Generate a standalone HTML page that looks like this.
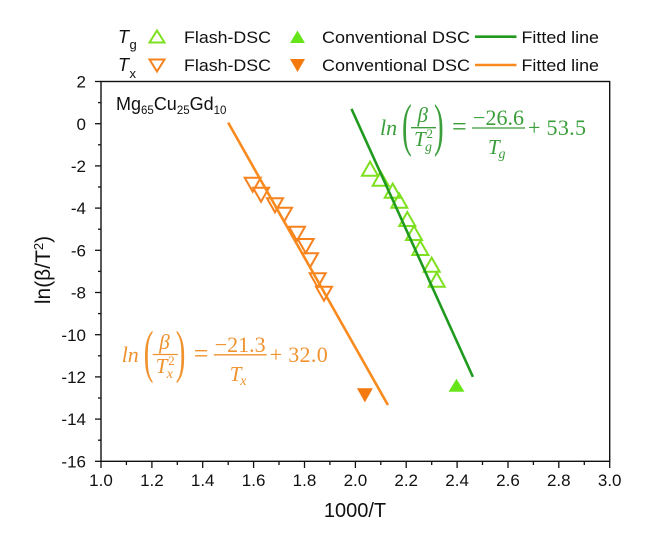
<!DOCTYPE html>
<html>
<head>
<meta charset="utf-8">
<style>
  html,body{margin:0;padding:0;background:#fff;}
  svg{display:block;}
</style>
</head>
<body>
<svg width="648" height="536" viewBox="0 0 648 536" xmlns="http://www.w3.org/2000/svg">
  <rect x="0" y="0" width="648" height="536" fill="#fff"/>

  <!-- Legend -->
  <g font-family="Liberation Sans, Arial, sans-serif" fill="#111">
    <text x="118" y="43" font-size="18" font-style="italic">T</text>
    <text x="129.5" y="49" font-size="13">g</text>
    <text x="118" y="71" font-size="18" font-style="italic">T</text>
    <text x="129.5" y="78" font-size="13">x</text>

    <text x="184" y="43" font-size="17" textLength="87" lengthAdjust="spacingAndGlyphs">Flash-DSC</text>
    <text x="184" y="71" font-size="17" textLength="87" lengthAdjust="spacingAndGlyphs">Flash-DSC</text>
    <text x="322" y="43" font-size="17" textLength="148" lengthAdjust="spacingAndGlyphs">Conventional DSC</text>
    <text x="322" y="71" font-size="17" textLength="148" lengthAdjust="spacingAndGlyphs">Conventional DSC</text>
    <text x="521.5" y="43" font-size="17" textLength="77.5" lengthAdjust="spacingAndGlyphs">Fitted line</text>
    <text x="521.5" y="71" font-size="17" textLength="77.5" lengthAdjust="spacingAndGlyphs">Fitted line</text>
  </g>
  <polygon points="149.5,42.5 164.5,42.5 157,30.5" fill="none" stroke="#7ee01e" stroke-width="2"/>
  <polygon points="290,43 305,43 297.5,30.5" fill="#66e619"/>
  <polygon points="149.5,59.5 164.5,59.5 157,71.5" fill="none" stroke="#f5821f" stroke-width="2"/>
  <polygon points="290,59 305,59 297.5,72" fill="#f47a10"/>
  <line x1="475" y1="36.7" x2="516.5" y2="36.7" stroke="#1f9a1f" stroke-width="2.6"/>
  <line x1="475" y1="65" x2="516.5" y2="65" stroke="#f98a1e" stroke-width="2.6"/>

  <!-- Frame -->
  <rect x="101" y="81.5" width="508.7" height="379.8" fill="none" stroke="#111" stroke-width="1.4"/>

  <!-- Y ticks -->
  <g stroke="#111" stroke-width="1.3">
    <line x1="95" y1="81.5" x2="101" y2="81.5"/>
    <line x1="98" y1="102.6" x2="101" y2="102.6"/>
    <line x1="95" y1="123.7" x2="101" y2="123.7"/>
    <line x1="98" y1="144.8" x2="101" y2="144.8"/>
    <line x1="95" y1="165.9" x2="101" y2="165.9"/>
    <line x1="98" y1="187" x2="101" y2="187"/>
    <line x1="95" y1="208.1" x2="101" y2="208.1"/>
    <line x1="98" y1="229.2" x2="101" y2="229.2"/>
    <line x1="95" y1="250.3" x2="101" y2="250.3"/>
    <line x1="98" y1="271.4" x2="101" y2="271.4"/>
    <line x1="95" y1="292.5" x2="101" y2="292.5"/>
    <line x1="98" y1="313.6" x2="101" y2="313.6"/>
    <line x1="95" y1="334.7" x2="101" y2="334.7"/>
    <line x1="98" y1="355.8" x2="101" y2="355.8"/>
    <line x1="95" y1="376.9" x2="101" y2="376.9"/>
    <line x1="98" y1="398" x2="101" y2="398"/>
    <line x1="95" y1="419.1" x2="101" y2="419.1"/>
    <line x1="98" y1="440.2" x2="101" y2="440.2"/>
    <line x1="95" y1="461.3" x2="101" y2="461.3"/>
  </g>
  <g font-family="Liberation Sans, Arial, sans-serif" font-size="17" fill="#111" text-anchor="end">
    <text x="86" y="87.6">2</text>
    <text x="86" y="129.8">0</text>
    <text x="86" y="172">-2</text>
    <text x="86" y="214.2">-4</text>
    <text x="86" y="256.4">-6</text>
    <text x="86" y="298.6">-8</text>
    <text x="86" y="340.8">-10</text>
    <text x="86" y="383">-12</text>
    <text x="86" y="425.2">-14</text>
    <text x="86" y="467.4">-16</text>
  </g>

  <!-- X ticks -->
  <g stroke="#111" stroke-width="1.3">
    <line x1="101" y1="461.3" x2="101" y2="468"/>
    <line x1="126.4" y1="461.3" x2="126.4" y2="465"/>
    <line x1="151.9" y1="461.3" x2="151.9" y2="468"/>
    <line x1="177.3" y1="461.3" x2="177.3" y2="465"/>
    <line x1="202.7" y1="461.3" x2="202.7" y2="468"/>
    <line x1="228.2" y1="461.3" x2="228.2" y2="465"/>
    <line x1="253.6" y1="461.3" x2="253.6" y2="468"/>
    <line x1="279" y1="461.3" x2="279" y2="465"/>
    <line x1="304.5" y1="461.3" x2="304.5" y2="468"/>
    <line x1="329.9" y1="461.3" x2="329.9" y2="465"/>
    <line x1="355.4" y1="461.3" x2="355.4" y2="468"/>
    <line x1="380.8" y1="461.3" x2="380.8" y2="465"/>
    <line x1="406.2" y1="461.3" x2="406.2" y2="468"/>
    <line x1="431.7" y1="461.3" x2="431.7" y2="465"/>
    <line x1="457.1" y1="461.3" x2="457.1" y2="468"/>
    <line x1="482.5" y1="461.3" x2="482.5" y2="465"/>
    <line x1="508" y1="461.3" x2="508" y2="468"/>
    <line x1="533.4" y1="461.3" x2="533.4" y2="465"/>
    <line x1="558.8" y1="461.3" x2="558.8" y2="468"/>
    <line x1="584.3" y1="461.3" x2="584.3" y2="465"/>
    <line x1="609.7" y1="461.3" x2="609.7" y2="468"/>
  </g>
  <g font-family="Liberation Sans, Arial, sans-serif" font-size="17" fill="#111" text-anchor="middle">
    <text x="101" y="486">1.0</text>
    <text x="151.9" y="486">1.2</text>
    <text x="202.7" y="486">1.4</text>
    <text x="253.6" y="486">1.6</text>
    <text x="304.5" y="486">1.8</text>
    <text x="355.4" y="486">2.0</text>
    <text x="406.2" y="486">2.2</text>
    <text x="457.1" y="486">2.4</text>
    <text x="508" y="486">2.6</text>
    <text x="558.8" y="486">2.8</text>
    <text x="609.7" y="486">3.0</text>
  </g>

  <!-- Axis titles -->
  <text x="355" y="517" font-family="Liberation Sans, Arial, sans-serif" font-size="20" fill="#111" text-anchor="middle">1000/T</text>
  <text transform="translate(50,270) rotate(-90)" font-family="Liberation Sans, Arial, sans-serif" font-size="21" fill="#111" text-anchor="middle">ln(β/T<tspan dy="-7" font-size="13">2</tspan><tspan dy="7">)</tspan></text>

  <!-- Alloy label -->
  <text x="116" y="110" font-family="Liberation Sans, Arial, sans-serif" font-size="18" fill="#111">Mg<tspan dy="4" font-size="11.5">65</tspan><tspan dy="-4">Cu</tspan><tspan dy="4" font-size="11.5">25</tspan><tspan dy="-4">Gd</tspan><tspan dy="4" font-size="11.5">10</tspan></text>

  <!-- Orange open markers (Tx Flash-DSC) -->
  <g fill="none" stroke="#f5821f" stroke-width="2">
    <polygon points="244.7,177.7 260.7,177.7 252.7,191.7"/>
    <polygon points="253,187.7 269,187.7 261,201.7"/>
    <polygon points="267,198.3 283,198.3 275,212.3"/>
    <polygon points="276,207.7 292,207.7 284,221.7"/>
    <polygon points="289,226.7 305,226.7 297,240.7"/>
    <polygon points="297.7,239 313.7,239 305.7,253"/>
    <polygon points="302,253.3 318,253.3 310,267.3"/>
    <polygon points="309.7,273.3 325.7,273.3 317.7,287.3"/>
    <polygon points="316,286.7 332,286.7 324,300.7"/>
  </g>

  <!-- Green open markers (Tg Flash-DSC) -->
  <g fill="none" stroke="#7ee01e" stroke-width="2">
    <polygon points="362,175.7 378,175.7 370,161.7"/>
    <polygon points="372.7,185.7 388.7,185.7 380.7,171.7"/>
    <polygon points="384.7,197.7 400.7,197.7 392.7,183.7"/>
    <polygon points="391.3,207.7 407.3,207.7 399.3,193.7"/>
    <polygon points="399.3,226 415.3,226 407.3,212"/>
    <polygon points="406,240 422,240 414,226"/>
    <polygon points="412.3,255 428.3,255 420.3,241"/>
    <polygon points="423.7,271.7 439.7,271.7 431.7,257.7"/>
    <polygon points="428.7,286.7 444.7,286.7 436.7,272.7"/>
  </g>

  <!-- Conventional DSC filled markers -->
  <polygon points="356.9,388.2 372.9,388.2 364.9,402.4" fill="#f47a10"/>
  <polygon points="448.5,391.8 464.5,391.8 456.5,378.8" fill="#66e619"/>

  <!-- Fitted lines -->
  <line x1="228.2" y1="122.6" x2="387.9" y2="405" stroke="#f98a1e" stroke-width="2.6"/>
  <line x1="351.5" y1="108.9" x2="472.9" y2="376.9" stroke="#1f9a1f" stroke-width="2.6"/>

  <!-- Green equation -->
  <g fill="#3a9e3a" font-family="Liberation Serif, 'DejaVu Serif', serif">
    <text x="380" y="135" font-size="22" font-style="italic">ln</text>
    <text transform="translate(402,144.3) scale(0.5,1)" font-size="58">(</text>
    <text x="417.5" y="122" font-size="21" font-style="italic">β</text>
    <line x1="411" y1="127.7" x2="436" y2="127.7" stroke="#3a9e3a" stroke-width="1.3"/>
    <text x="414" y="146" font-size="21" font-style="italic">T</text>
    <text x="426.5" y="138" font-size="13">2</text>
    <text x="425" y="151" font-size="14" font-style="italic">g</text>
    <text transform="translate(434,144.3) scale(0.5,1)" font-size="58">)</text>
    <text x="452" y="135" font-size="26">=</text>
    <text x="498.5" y="125" font-size="22" text-anchor="middle">−26.6</text>
    <line x1="472" y1="128" x2="525" y2="128" stroke="#3a9e3a" stroke-width="1.3"/>
    <text x="488" y="154" font-size="21" font-style="italic">T</text>
    <text x="498.5" y="158" font-size="14" font-style="italic">g</text>
    <text x="528" y="135" font-size="22" textLength="58" lengthAdjust="spacing">+ 53.5</text>
  </g>

  <!-- Orange equation -->
  <g fill="#f0922e" font-family="Liberation Serif, 'DejaVu Serif', serif" transform="translate(-258.3,226.8)">
    <text x="380" y="135" font-size="22" font-style="italic">ln</text>
    <text transform="translate(402,144.3) scale(0.5,1)" font-size="58">(</text>
    <text x="417.5" y="122" font-size="21" font-style="italic">β</text>
    <line x1="411" y1="127.7" x2="436" y2="127.7" stroke="#f0922e" stroke-width="1.3"/>
    <text x="414" y="146" font-size="21" font-style="italic">T</text>
    <text x="426.5" y="138" font-size="13">2</text>
    <text x="425" y="151" font-size="14" font-style="italic">x</text>
    <text transform="translate(434,144.3) scale(0.5,1)" font-size="58">)</text>
    <text x="452" y="135" font-size="26">=</text>
    <text x="498.5" y="125" font-size="22" text-anchor="middle">−21.3</text>
    <line x1="472" y1="128" x2="525" y2="128" stroke="#f0922e" stroke-width="1.3"/>
    <text x="488" y="154" font-size="21" font-style="italic">T</text>
    <text x="498.5" y="158" font-size="14" font-style="italic">x</text>
    <text x="528" y="135" font-size="22" textLength="58" lengthAdjust="spacing">+ 32.0</text>
  </g>
</svg>
</body>
</html>
